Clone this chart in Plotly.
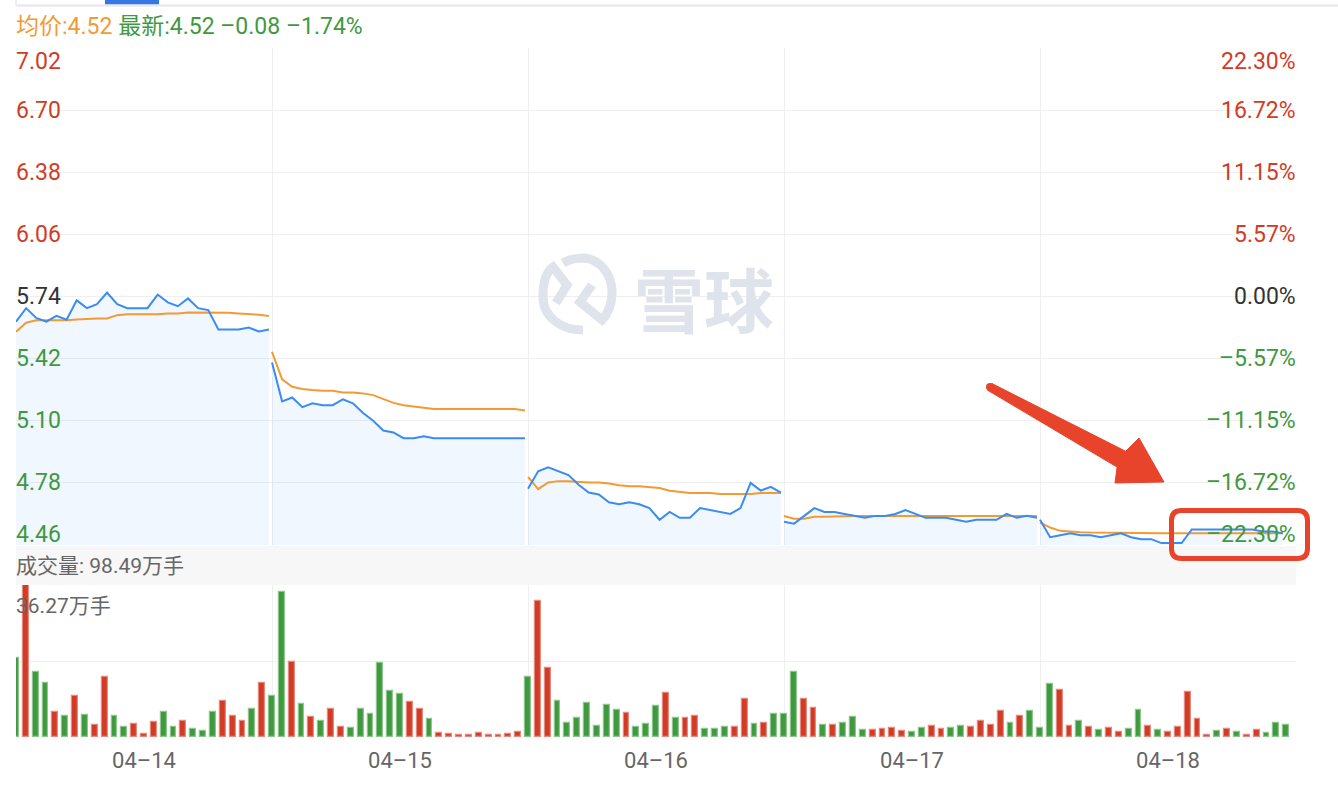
import plotly.graph_objects as go

# 5-day intraday chart (雪球), prices in CNY, volume in 万手
days = ["04-14", "04-15", "04-16", "04-17", "04-18"]
prev_close = 5.74
price_ticks = [7.02, 6.70, 6.38, 6.06, 5.74, 5.42, 5.10, 4.78, 4.46]
vol_max = 36.27

price_0414 = [5.61, 5.68, 5.63, 5.61, 5.64, 5.62, 5.72, 5.68, 5.70, 5.76, 5.70, 5.68, 5.68,
              5.68, 5.75, 5.71, 5.69, 5.73, 5.68, 5.67, 5.57, 5.57, 5.57, 5.58, 5.56, 5.57]
price_0415 = [5.40, 5.20, 5.22, 5.17, 5.19, 5.18, 5.18, 5.21, 5.19, 5.14, 5.10, 5.05, 5.04,
              5.01, 5.01, 5.02, 5.01, 5.01, 5.01, 5.01, 5.01, 5.01, 5.01, 5.01, 5.01, 5.01]
price_0416 = [4.75, 4.84, 4.86, 4.84, 4.82, 4.77, 4.73, 4.72, 4.68, 4.67, 4.68, 4.67, 4.65,
              4.59, 4.63, 4.60, 4.60, 4.65, 4.64, 4.63, 4.62, 4.65, 4.78, 4.74, 4.76, 4.73]
price_0417 = [4.58, 4.57, 4.61, 4.65, 4.63, 4.63, 4.62, 4.61, 4.60, 4.61, 4.61, 4.62, 4.64,
              4.62, 4.60, 4.60, 4.60, 4.59, 4.58, 4.59, 4.59, 4.59, 4.62, 4.60, 4.61, 4.60]
price_0418 = [4.59, 4.50, 4.51, 4.52, 4.51, 4.51, 4.50, 4.51, 4.52, 4.50, 4.49, 4.49, 4.47,
              4.47, 4.47, 4.54, 4.54, 4.54, 4.54, 4.54, 4.54, 4.54, 4.53, 4.53, 4.52]

avg_0414 = [5.558, 5.605, 5.618, 5.618, 5.618, 5.618, 5.622, 5.625, 5.627, 5.627, 5.644, 5.649, 5.649,
            5.649, 5.649, 5.653, 5.653, 5.658, 5.658, 5.658, 5.658, 5.656, 5.653, 5.651, 5.646, 5.639]
avg_0415 = [5.455, 5.313, 5.275, 5.264, 5.258, 5.254, 5.254, 5.246, 5.246, 5.241, 5.232, 5.210, 5.192,
            5.180, 5.172, 5.167, 5.160, 5.160, 5.160, 5.160, 5.160, 5.160, 5.160, 5.160, 5.160, 5.153]
avg_0416 = [4.811, 4.748, 4.782, 4.789, 4.789, 4.785, 4.782, 4.782, 4.777, 4.768, 4.763, 4.763, 4.759,
            4.754, 4.739, 4.732, 4.728, 4.728, 4.728, 4.723, 4.723, 4.723, 4.723, 4.728, 4.728, 4.728]
avg_0417 = [4.609, 4.595, 4.595, 4.605, 4.605, 4.607, 4.609, 4.609, 4.609, 4.609, 4.609, 4.609, 4.609,
            4.609, 4.609, 4.609, 4.609, 4.609, 4.609, 4.609, 4.609, 4.609, 4.609, 4.609, 4.609, 4.609]
avg_0418 = [4.577, 4.550, 4.533, 4.528, 4.526, 4.524, 4.524, 4.523, 4.523, 4.522, 4.522, 4.521, 4.521,
            4.520, 4.520, 4.520, 4.520, 4.520, 4.520, 4.520, 4.520, 4.520, 4.520, 4.520, 4.520]

vol_0414 = [18.8, 36.27, 15.6, 12.8, 5.9, 4.9, 9.7, 5.2, 2.8, 14.2, 4.9, 2.5, 3.0,
            0.6, 3.5, 5.9, 2.3, 3.7, 2.0, 1.5, 5.9, 8.5, 4.9, 3.7, 6.6, 13.0]
vol_0415 = [9.7, 34.7, 17.8, 7.8, 4.7, 3.7, 6.8, 2.5, 2.1, 6.6, 5.4, 17.6, 10.9,
            10.2, 8.3, 6.8, 4.2, 0.9, 0.6, 0.4, 0.4, 0.9, 0.4, 0.4, 0.6, 1.1]
vol_0416 = [14.4, 32.5, 16.5, 8.7, 3.4, 4.5, 8.2, 2.7, 7.7, 6.5, 5.8, 2.5, 3.2,
            7.5, 10.6, 4.6, 4.6, 5.1, 2.0, 2.0, 2.5, 2.5, 9.0, 3.2, 3.4, 5.6]
vol_0417 = [5.6, 15.6, 9.0, 7.0, 2.9, 2.9, 3.4, 4.8, 1.7, 1.7, 2.0, 2.2, 1.5,
            1.3, 2.2, 2.7, 2.0, 2.2, 2.7, 2.5, 3.9, 2.9, 6.3, 3.4, 5.1, 6.3]
vol_0418 = [2.2, 12.6, 11.1, 2.7, 3.9, 2.5, 1.7, 2.2, 1.3, 2.0, 6.5, 2.7, 1.7,
            1.3, 2.5, 10.8, 4.4, 0.5, 1.5, 2.0, 1.3, 0.5, 1.7, 1.0, 3.4, 2.9]

# 1 = up (red bar), -1 = down (green bar)
dir_0414 = [-1, 1, -1, -1, 1, -1, 1, -1, 1, 1, -1, -1, 1, 1, 1, -1, -1, 1, -1, -1, -1, 1, 1, 1, -1, 1]
dir_0415 = [-1, -1, 1, -1, 1, -1, 1, 1, -1, -1, -1, -1, -1, -1, 1, 1, -1, 1, 1, 1, 1, 1, 1, 1, 1, 1]
dir_0416 = [-1, 1, 1, -1, -1, -1, -1, -1, -1, -1, 1, -1, -1, -1, 1, -1, 1, 1, -1, -1, -1, 1, 1, -1, 1, -1]
dir_0417 = [-1, -1, 1, 1, -1, 1, -1, -1, -1, 1, 1, 1, 1, -1, -1, 1, 1, -1, -1, 1, 1, 1, 1, -1, 1, -1]
dir_0418 = [-1, -1, 1, 1, -1, 1, -1, 1, 1, -1, -1, 1, -1, 1, 1, 1, 1, 1, -1, 1, -1, 1, 1, -1, -1, -1]

prices = [price_0414, price_0415, price_0416, price_0417, price_0418]
avgs = [avg_0414, avg_0415, avg_0416, avg_0417, avg_0418]
vols = [vol_0414, vol_0415, vol_0416, vol_0417, vol_0418]
dirs = [dir_0414, dir_0415, dir_0416, dir_0417, dir_0418]

RED = "#d23c26"
RED_EDGE = "#e58a7d"
GREEN = "#3f993f"
GREEN_EDGE = "#8dc68b"
BLUE = "#3a8cf3"
ORANGE = "#f39a33"
GRID = "#efefef"
MARK = "#dfe3eb"
ARROW = "#e8432b"
FONT = "Roboto, 'Noto Sans CJK SC', sans-serif"

LINE_SLOTS = 25.3   # line samples per day slot
BAR_SLOTS = 26      # bars per day slot

# plot area in pixels (left, right, top, bottom)
L, R, T, B = 16, 1296, 48, 737
W, H = 1338, 790


def px(x):
    return (x - L) / (R - L)


def py(y):
    return (B - y) / (B - T)


def pt(p):
    return f"{px(p[0]):.5f},{py(p[1]):.5f}"


def poly(points, close=True):
    s = "M" + pt(points[0]) + "".join(" L" + pt(p) for p in points[1:])
    return s + (" Z" if close else "")


def curve(start, segs):
    # segs: ("C", p1, p2, p3) or ("L", p)
    s = "M" + pt(start)
    for seg in segs:
        s += " " + seg[0] + " ".join(pt(p) for p in seg[1:])
    return s


fig = go.Figure()

for d in range(5):
    xs = [d + i / LINE_SLOTS for i in range(len(prices[d]))]
    fig.add_trace(go.Scatter(x=xs, y=prices[d], mode="lines", fill="tozeroy",
                             fillcolor="rgba(58,140,243,0.07)", line=dict(width=0),
                             hoverinfo="skip", showlegend=False))
for d in range(5):
    xs = [d + i / LINE_SLOTS for i in range(len(avgs[d]))]
    fig.add_trace(go.Scatter(x=xs, y=avgs[d], mode="lines",
                             line=dict(color=ORANGE, width=2), showlegend=False))
for d in range(5):
    xs = [d + i / LINE_SLOTS for i in range(len(prices[d]))]
    fig.add_trace(go.Scatter(x=xs, y=prices[d], mode="lines",
                             line=dict(color=BLUE, width=2), showlegend=False))

bx, by, bc, be = [], [], [], []
for d in range(5):
    for i, (v, s) in enumerate(zip(vols[d], dirs[d])):
        bx.append(d + i / BAR_SLOTS)
        by.append(v)
        bc.append(RED if s > 0 else GREEN)
        be.append(RED_EDGE if s > 0 else GREEN_EDGE)
fig.add_trace(go.Bar(x=bx, y=by, width=0.6 / BAR_SLOTS, xaxis="x2", yaxis="y2",
                     marker=dict(color=bc, line=dict(color=be, width=1.2)),
                     showlegend=False))

# axis labels on both sides of the price pane
ann = []
for i, p in enumerate(price_ticks):
    if p > prev_close:
        col = RED
    elif p < prev_close:
        col = GREEN
    else:
        col = "#333333"
    pct = (p - prev_close) / prev_close * 100
    pct_txt = f"{pct:.2f}%".replace("-", "\u2013")
    ya = "top" if i == 0 else ("bottom" if i == len(price_ticks) - 1 else "middle")
    ys = 2 if i == 0 else (-5 if i == len(price_ticks) - 1 else 0)
    ann.append(dict(x=0, xref="paper", xanchor="left", y=p, yref="y", yanchor=ya, yshift=ys,
                    xshift=-2, text=f"{p:.2f}", showarrow=False, font=dict(size=23, color=col)))
    ann.append(dict(x=1, xref="paper", xanchor="right", y=p, yref="y", yanchor=ya, yshift=ys,
                    xshift=2, text=pct_txt, showarrow=False, font=dict(size=23, color=col)))

ann += [
    dict(x=0, xref="paper", xanchor="left", xshift=-2, y=py(26), yref="paper", yanchor="middle",
         showarrow=False, font=dict(size=23),
         text=f"<span style='color:{ORANGE}'>均价:4.52</span> "
              f"<span style='color:{GREEN}'>最新:4.52 \u20130.08 \u20131.74%</span>"),
    dict(x=0, xref="paper", xanchor="left", xshift=-2, y=py(566), yref="paper", yanchor="middle",
         showarrow=False, font=dict(size=21, color="#666666"), text="成交量: 98.49万手"),
    dict(x=0, xref="paper", xanchor="left", xshift=-2, y=py(606), yref="paper", yanchor="middle",
         showarrow=False, font=dict(size=21, color="#666666"), text=f"{vol_max:.2f}万手"),
    dict(x=px(704), xref="paper", y=py(297), yref="paper", showarrow=False,
         font=dict(size=70, color=MARK, family="'Noto Sans CJK SC'"), text="<b>雪球</b>"),
]

shapes = [
    # header tab strip
    dict(type="line", xref="paper", yref="paper", x0=px(16), x1=px(1338), y0=py(5.5), y1=py(5.5),
         line=dict(color="#e6e6ee", width=2)),
    dict(type="line", xref="paper", yref="paper", x0=px(16), x1=px(16), y0=py(0), y1=py(5.5),
         line=dict(color="#e6e6ee", width=1.5)),
    dict(type="rect", xref="paper", yref="paper", x0=px(105), x1=px(159), y0=py(0), y1=py(4.3),
         fillcolor="#3577e3", line=dict(width=0)),
    # volume header band
    dict(type="rect", xref="paper", yref="paper", x0=0, x1=1, y0=py(585), y1=py(546),
         fillcolor="#f7f7f7", line=dict(width=0), layer="below"),
    # watermark logo: two interlocking hooks forming a ring
    dict(type="path", xref="paper", yref="paper", line=dict(color=MARK, width=9),
         path=curve((583, 330), [("C", (560, 330), (543, 316), (543, 297)),
                                 ("C", (543, 281), (547, 271), (553, 267)),
                                 ("L", (567, 285)), ("L", (556, 303))])),
    dict(type="path", xref="paper", yref="paper", line=dict(color=MARK, width=9),
         path=curve((563, 263), [("C", (570, 259), (577, 258), (583, 258)),
                                 ("C", (602, 259), (613, 277), (612, 295)),
                                 ("C", (611, 307), (607, 315), (602, 320)),
                                 ("L", (580, 302)), ("L", (592, 285))])),
    # red arrow
    dict(type="path", xref="paper", yref="paper", fillcolor=ARROW, line=dict(color=ARROW, width=1),
         path=poly([(991.9, 383.5), (1125.7, 451.3), (1139, 438), (1164, 482), (1115, 483),
                    (1117.1, 467.1), (988.1, 390.5)])),
    dict(type="circle", xref="paper", yref="paper", fillcolor=ARROW, line=dict(width=0),
         x0=px(986), x1=px(994), y0=py(391), y1=py(383)),
]
# red rounded highlight box
x0, x1, y0, y1, r = 1171.5, 1307.5, 510.5, 558.5, 10
box = ("M" + pt((x0 + r, y0)) + " L" + pt((x1 - r, y0)) + " Q" + pt((x1, y0)) + " " + pt((x1, y0 + r))
       + " L" + pt((x1, y1 - r)) + " Q" + pt((x1, y1)) + " " + pt((x1 - r, y1))
       + " L" + pt((x0 + r, y1)) + " Q" + pt((x0, y1)) + " " + pt((x0, y1 - r))
       + " L" + pt((x0, y0 + r)) + " Q" + pt((x0, y0)) + " " + pt((x0 + r, y0)) + " Z")
shapes.append(dict(type="path", xref="paper", yref="paper", path=box,
                   line=dict(color=ARROW, width=5)))

day_grid = dict(tickvals=list(range(6)), showgrid=True, gridcolor=GRID, gridwidth=1, ticklen=0)

fig.update_layout(
    width=W, height=H,
    margin=dict(l=L, r=W - R, t=T, b=H - B),
    paper_bgcolor="white", plot_bgcolor="white",
    font=dict(family=FONT),
    showlegend=False,
    bargap=0,
    xaxis=dict(domain=[0, 1], range=[0, 5], anchor="y", showticklabels=False, showgrid=False,
               zeroline=False, minor=day_grid, fixedrange=True),
    yaxis=dict(domain=[py(545), 1], range=[4.46, 7.02], tickvals=price_ticks, showticklabels=False,
               gridcolor=GRID, zeroline=False, fixedrange=True),
    xaxis2=dict(domain=[0, 1], range=[0, 5], anchor="y2", showgrid=False, zeroline=False,
                tickvals=[d + 0.5 for d in range(5)], ticktext=[s.replace("-", "\u2013") for s in days],
                tickfont=dict(size=22, color="#666666"), ticks="", ticklabelstandoff=8,
                minor=day_grid, fixedrange=True),
    yaxis2=dict(domain=[0, py(585)], range=[0, vol_max], tickvals=[0, vol_max / 2],
                showticklabels=False, gridcolor=GRID, zeroline=False, fixedrange=True),
    annotations=ann,
    shapes=shapes,
)

fig.write_html("out.html", config={"displayModeBar": False},
               post_script="document.body.style.margin='0';")
